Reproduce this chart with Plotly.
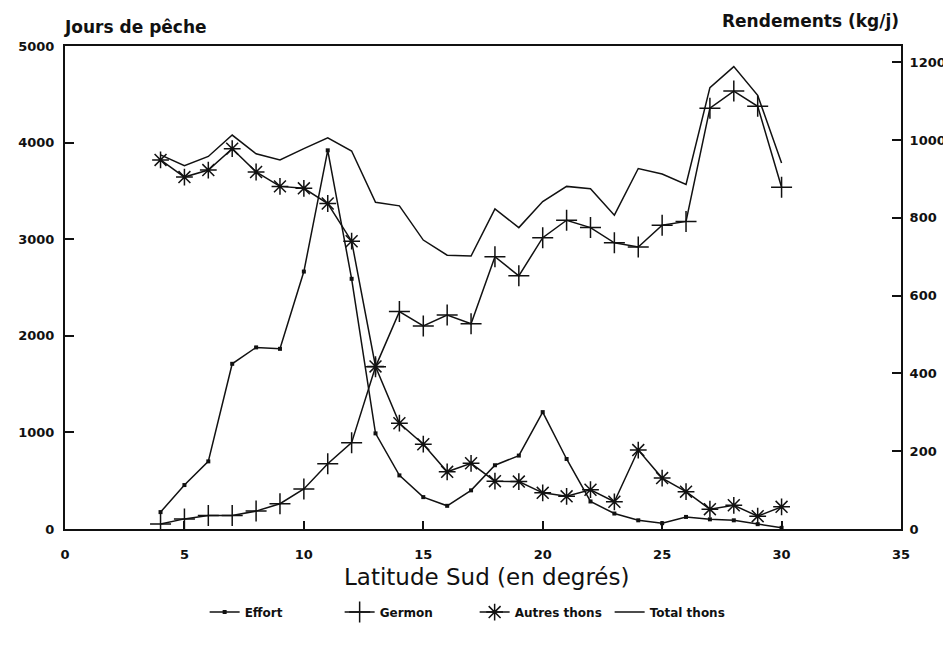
import plotly.graph_objects as go

latitude = list(range(4, 31))

effort = [175, 455, 700, 1710, 1880, 1865, 2665, 3920, 2590, 990, 555, 330, 240, 400,
          660, 760, 1210, 725, 285, 160, 90, 60, 125, 100, 90, 50, 12]

germon = [13, 26, 35, 35, 46, 65, 103, 168, 222, 417, 559, 522, 550, 528,
          700, 651, 749, 794, 775, 736, 725, 781, 791, 1082, 1126, 1087, 879]

autres = [949, 905, 923, 978, 918, 881, 876, 837, 740, 418, 272, 218, 147, 169,
          123, 122, 93, 84, 101, 70, 203, 131, 96, 51, 61, 33, 57]

total = [962, 934, 958, 1013, 965, 949, 978, 1006, 972, 840, 831, 743, 704, 702,
         823, 775, 842, 881, 875, 807, 927, 913, 886, 1135, 1189, 1115, 941]

x_ticks = [0, 5, 10, 15, 20, 25, 30, 35]
left_ticks = [0, 1000, 2000, 3000, 4000, 5000]
right_ticks = [0, 200, 400, 600, 800, 1000, 1200]

FONT = "DejaVu Sans"
BLACK = "#111111"
TICKFONT = dict(size=13, family=FONT, color=BLACK, weight="bold")

fig = go.Figure()

fig.add_trace(go.Scatter(
    x=latitude, y=effort, name="Effort", mode="lines+markers",
    line=dict(color=BLACK, width=1.5),
    marker=dict(symbol="square", size=4, color=BLACK),
    yaxis="y"))

fig.add_trace(go.Scatter(
    x=latitude, y=germon, name="Germon", mode="lines+markers",
    line=dict(color=BLACK, width=1.5),
    marker=dict(symbol="cross-thin-open", size=15, color=BLACK,
                line=dict(color=BLACK, width=1.5)),
    yaxis="y2"))

fig.add_trace(go.Scatter(
    x=latitude, y=autres, name="Autres thons", mode="lines+markers",
    line=dict(color=BLACK, width=1.5),
    marker=dict(symbol="asterisk-open", size=14, color=BLACK,
                line=dict(color=BLACK, width=1.5)),
    yaxis="y2"))

fig.add_trace(go.Scatter(
    x=latitude, y=total, name="Total thons", mode="lines",
    line=dict(color=BLACK, width=1.5),
    yaxis="y2"))

# The page body has an 8px margin, so the figure is sized to fit the visible window.
fig.update_layout(
    width=943, height=641,
    margin=dict(l=57, r=50, t=38, b=120),
    paper_bgcolor="white", plot_bgcolor="white",
    font=dict(family=FONT, color=BLACK, size=13),
    showlegend=True,
    legend=dict(orientation="h", x=0.49, xanchor="center", y=-0.172, yanchor="middle",
                font=dict(size=12, family=FONT, color=BLACK, weight="bold"), itemwidth=30,
                entrywidth=90, entrywidthmode="pixels",
                bgcolor="rgba(0,0,0,0)"),
    xaxis=dict(range=[0, 35], tickvals=x_ticks, ticktext=[str(v) for v in x_ticks],
               automargin=False,
               showgrid=False, zeroline=False, showline=True, linecolor=BLACK, linewidth=2,
               mirror=True, ticks="inside", ticklen=8, tickwidth=1.5, tickcolor=BLACK,
               ticklabelstandoff=12, tickfont=TICKFONT),
    yaxis=dict(range=[0, 5000], tickvals=left_ticks, ticktext=[str(v) for v in left_ticks],
               automargin=False,
               showgrid=False, zeroline=False, showline=True, linecolor=BLACK, linewidth=2,
               ticks="inside", ticklen=9, tickwidth=1.5, tickcolor=BLACK,
               ticklabelstandoff=6, tickfont=TICKFONT),
    yaxis2=dict(range=[0, 1242], tickvals=right_ticks, ticktext=[str(v) for v in right_ticks],
                overlaying="y", side="right", automargin=False,
                showgrid=False, zeroline=False, showline=True, linecolor=BLACK, linewidth=2,
                ticks="inside", ticklen=9, tickwidth=1.5, tickcolor=BLACK,
                ticklabelstandoff=4, tickfont=TICKFONT),
    annotations=[
        dict(text="Jours de pêche", xref="paper", yref="paper", x=0, y=1,
             xanchor="left", yanchor="middle", yshift=19, xshift=-3, showarrow=False,
             font=dict(size=17, family=FONT, color=BLACK, weight="bold")),
        dict(text="Rendements (kg/j)", xref="paper", yref="paper", x=1, y=1,
             xanchor="right", yanchor="middle", yshift=25, showarrow=False,
             font=dict(size=17, family=FONT, color=BLACK, weight="bold")),
        dict(text="Latitude Sud (en degrés)", xref="paper", yref="paper", x=0.5, y=0,
             xanchor="center", yanchor="middle", yshift=-48, xshift=3, showarrow=False,
             font=dict(size=23, family=FONT, color=BLACK)),
    ],
)

fig.write_html("out.html")
